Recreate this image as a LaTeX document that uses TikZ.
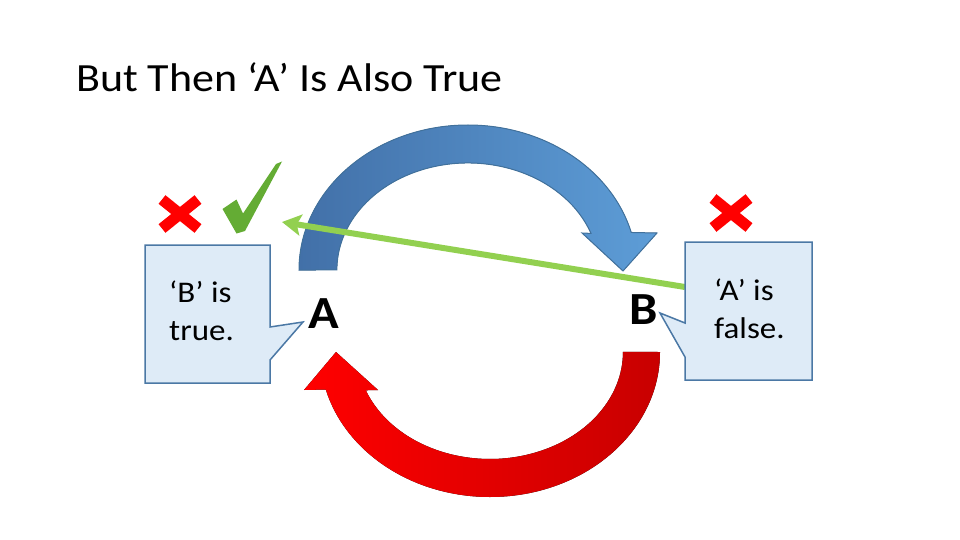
\documentclass[tikz,border=0pt]{standalone}
\usepackage{fontspec}
\setmainfont{Carlito}[FakeStretch=1.1]
\usetikzlibrary{arrows.meta}
\definecolor{arcdark}{RGB}{66,112,168}
\definecolor{arclight}{RGB}{93,157,215}
\definecolor{arcline}{RGB}{65,113,156}
\definecolor{redleft}{RGB}{255,0,0}
\definecolor{redright}{RGB}{200,0,0}
\definecolor{callfill}{RGB}{222,235,247}
\definecolor{callline}{RGB}{75,120,165}
\definecolor{pointgreen}{RGB}{146,208,80}
\definecolor{tickgreen}{RGB}{100,172,52}
\begin{document}
\begin{tikzpicture}[x=1pt, y=-1pt, >=Stealth,
    callout/.style={draw=callline, fill=callfill, line width=1.5pt, line join=miter},
    calltext/.style={font=\fontsize{30}{38}\selectfont, align=left, inner sep=0pt},
    letter/.style={font=\fontsize{46}{50}\selectfont\bfseries, inner sep=0pt},
    crossline/.style={draw=red, line width=11pt}]
    \useasboundingbox (0,0) rectangle (960,540);
    % Title
    \node[anchor=base west, inner sep=0pt, font=\fontsize{40}{48}\selectfont] (title) at (76,92) {But Then ‘A’ Is Also True};
    % Blue arc A to B
    \filldraw[draw=arcline, line width=1pt, left color=arcdark, right color=arclight]
        (299,270) arc[start angle=180, end angle=345, x radius=169, y radius=145]
        -- (657,233) -- (623,271) -- (582,233) -- (591,233.4)
        arc[start angle=340, end angle=180, x radius=131, y radius=107] -- cycle;
    % Red arc B to A
    \fill[left color=redleft, right color=redright]
        (660,352) arc[start angle=0, end angle=165, x radius=170, y radius=145]
        -- (304,390) -- (336,352) -- (378,390) -- (365.8,390.3)
        arc[start angle=159, end angle=0, x radius=133, y radius=107] -- cycle;
    % Letters
    \node[letter] (A) at (324,314) {A};
    \node[letter] (B) at (644,310) {B};
    % Green arrow
    \coordinate (rboxedge) at (685,287);
    \coordinate (tickend) at (282,222);
    \draw[pointgreen, line width=6pt, -{Stealth[length=19pt, width=21pt, inset=4pt]}] (rboxedge) -- (tickend);
    % Callouts
    \draw[callout] (145,245) -- (270,245) -- (270,327) -- (303,322) -- (270,360) -- (270,383) -- (145,383) -- cycle;
    \draw[callout] (685,242) -- (812,242) -- (812,380) -- (685,380) -- (685,357) -- (660,313) -- (685,323) -- cycle;
    \node[calltext, anchor=north west] (ltext) at (169,281) {‘B’ is\\true.};
    \node[calltext, anchor=north west] (rtext) at (714,279) {‘A’ is\\false.};
    % Crosses
    \foreach \cx/\cy in {180/214, 731/213} {
        \draw[crossline] (\cx-18,\cy-14.5) -- (\cx+18,\cy+14.5);
        \draw[crossline] (\cx-18,\cy+14.5) -- (\cx+18,\cy-14.5);
    }
    % Tick
    \fill[tickgreen] (222.5,209) -- (236.5,199.5) -- (243,213.5) -- (276,164) -- (282,161.5)
        -- (245,231) -- (236.5,233.5) -- cycle;
\end{tikzpicture}
\end{document}
